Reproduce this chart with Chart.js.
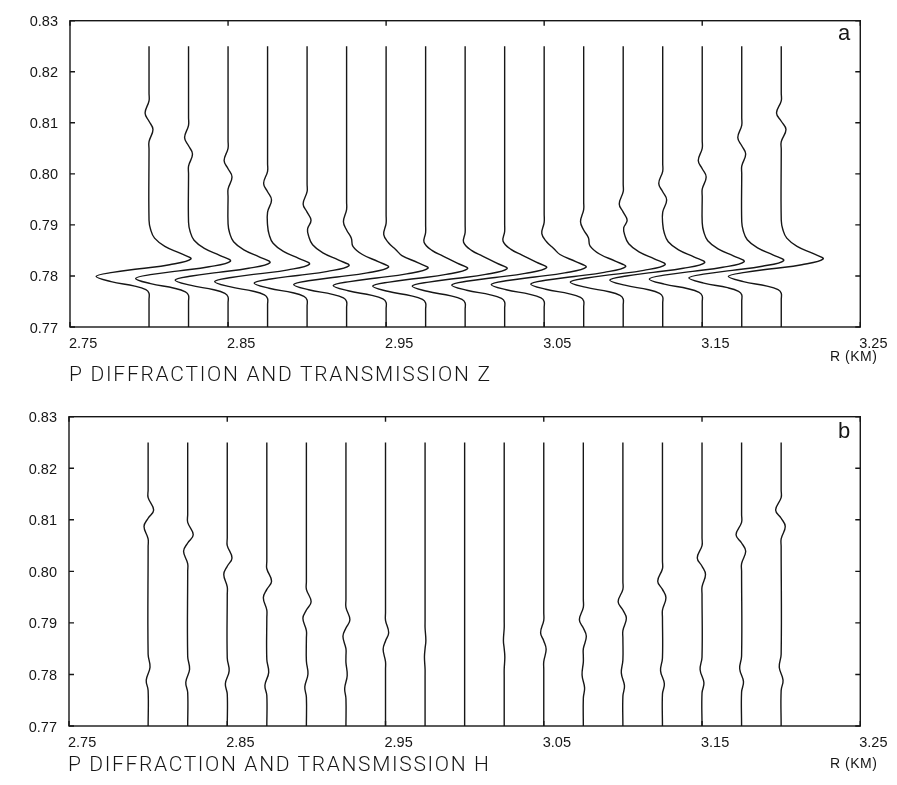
<!DOCTYPE html>
<html>
<head>
<meta charset="utf-8">
<script src="https://cdn.jsdelivr.net/npm/chart.js@4.4.1/dist/chart.umd.min.js"></script>
<style>
  html, body { margin: 0; padding: 0; background: #fff; }
  #wrap { position: relative; width: 897px; height: 785px; background: #fff; overflow: hidden; }
  #wrap canvas { position: absolute; left: 0; }
  .txt { position: absolute; color: #161616; white-space: nowrap; line-height: 1; }
  .title { font-family: Roboto, "Liberation Sans", sans-serif; font-weight: 300; font-size: 21px; }
  .unit { font-family: "Liberation Sans", Arial, sans-serif; font-size: 14px; }
  .tag { font-family: "Liberation Sans", Arial, sans-serif; font-size: 22px; }
</style>
</head>
<body>
<div id="wrap">
  <canvas id="panelZ" width="897" height="392" style="top:0px"></canvas>
  <canvas id="panelH" width="897" height="389" style="top:396px"></canvas>
  <div class="txt title" id="titleZ" data-w="421" style="left:69px; top:364px;">P DIFFRACTION AND TRANSMISSION Z</div>
  <div class="txt title" id="titleH" data-w="421" style="left:68px; top:754px;">P DIFFRACTION AND TRANSMISSION H</div>
  <div class="txt unit" data-w="47" style="left:830px; top:349px;">R (KM)</div>
  <div class="txt unit" data-w="47" style="left:830px; top:756px;">R (KM)</div>
  <div class="txt tag" style="left:838px; top:22px;">a</div>
  <div class="txt tag" style="left:838px; top:420px;">b</div>
</div>
<script>
// Receiver ranges (km) of the seventeen traces
const rangeKm = [2.800, 2.825, 2.850, 2.875, 2.900, 2.925, 2.950, 2.975, 3.000,
                 3.025, 3.050, 3.075, 3.100, 3.125, 3.150, 3.175, 3.200];

// Axis ticks
const rangeTicks = [2.75, 2.85, 2.95, 3.05, 3.15, 3.25];
const timeTicks = [0.77, 0.78, 0.79, 0.80, 0.81, 0.82, 0.83];

// Vertical component traces: [time (s), deflection (m of range axis)]
const zTraces = [
  [[0.770,0],[0.7754,0],[0.7766,0],[0.7773,-2],[0.7780,-9],[0.7789,-24],[0.7799,-33.5],[0.7807,-23],[0.7814,-6],[0.7822,13],[0.7833,26.5],[0.7844,20],[0.7858,10],[0.7874,3.5],[0.7891,1],[0.7909,0],[0.8048,0],[0.8063,0],[0.8087,2.5],[0.8103,0],[0.8119,-2.5],[0.8143,0],[0.8158,0],[0.825,0]],
  [[0.770,0],[0.7750,0],[0.7762,0],[0.7769,-2],[0.7776,-9],[0.7785,-24],[0.7795,-33.5],[0.7803,-23],[0.7810,-6],[0.7818,13],[0.7829,26.5],[0.7840,20],[0.7854,10],[0.7870,3.5],[0.7887,1],[0.7905,0],[0.8000,0],[0.8015,0],[0.8039,2.5],[0.8055,0],[0.8071,-2.5],[0.8095,0],[0.8110,0],[0.825,0]],
  [[0.770,0],[0.7747,0],[0.7759,0],[0.7766,-2],[0.7773,-9],[0.7782,-24],[0.7792,-33.5],[0.7800,-23],[0.7807,-6],[0.7815,13],[0.7826,26.5],[0.7837,20],[0.7851,10],[0.7867,3.5],[0.7884,1],[0.7902,0],[0.7955,0],[0.7970,0],[0.7994,2.5],[0.8010,0],[0.8026,-2.5],[0.8050,0],[0.8065,0],[0.825,0]],
  [[0.770,0],[0.7744,0],[0.7756,0],[0.7763,-2],[0.7770,-9],[0.7779,-24],[0.7789,-33.5],[0.7797,-23],[0.7804,-6],[0.7812,13],[0.7823,26.5],[0.7834,20],[0.7848,10],[0.7864,3.5],[0.7881,1],[0.7899,0],[0.7925,0],[0.7949,2.5],[0.7965,0],[0.7981,-2.5],[0.8005,0],[0.8020,0],[0.825,0]],
  [[0.770,0],[0.7741,0],[0.7753,0],[0.7760,-2],[0.7767,-9],[0.7776,-24],[0.7786,-33.5],[0.7794,-23],[0.7801,-6],[0.7809,13],[0.7820,26.5],[0.7831,20],[0.7845,10],[0.7861,3.5],[0.7878,1],[0.7892,0.3],[0.7909,2.5],[0.7925,0],[0.7941,-2.5],[0.7965,0],[0.7980,0],[0.825,0]],
  [[0.770,0],[0.7738,0],[0.7750,0],[0.7757,-2],[0.7764,-9],[0.7773,-24],[0.7783,-33.5],[0.7791,-23],[0.7798,-6],[0.7806,13],[0.7817,26.5],[0.7828,20],[0.7842,10],[0.7858,4],[0.7874,3],[0.7890,0],[0.7906,-2],[0.7930,0],[0.7945,0],[0.825,0]],
  [[0.770,0],[0.7736,0],[0.7748,0],[0.7755,-2],[0.7762,-9],[0.7771,-24],[0.7781,-33.5],[0.7789,-23],[0.7796,-6],[0.7804,13],[0.7815,26.5],[0.7826,20],[0.7840,10],[0.7852,6],[0.7865,1.5],[0.7881,-1.5],[0.7903,0],[0.7920,0],[0.825,0]],
  [[0.770,0],[0.7735,0],[0.7747,0],[0.7754,-2],[0.7761,-9],[0.7770,-24],[0.7780,-33.5],[0.7788,-23],[0.7795,-6],[0.7803,13],[0.7814,26.5],[0.7825,20],[0.7839,11],[0.7850,4],[0.7866,-1],[0.7885,0],[0.7900,0],[0.825,0]],
  [[0.770,0],[0.7735,0],[0.7747,0],[0.7754,-2],[0.7761,-9],[0.7770,-24],[0.7780,-33.5],[0.7788,-23],[0.7795,-6],[0.7803,13],[0.7814,26.5],[0.7825,20],[0.7839,11],[0.7850,4],[0.7866,-1],[0.7885,0],[0.7900,0],[0.825,0]],
  [[0.770,0],[0.7737,0],[0.7749,0],[0.7756,-2],[0.7763,-9],[0.7772,-24],[0.7782,-33.5],[0.7790,-23],[0.7797,-6],[0.7805,13],[0.7816,26.5],[0.7827,20],[0.7841,11],[0.7852,4],[0.7868,-1],[0.7887,0],[0.7902,0],[0.825,0]],
  [[0.770,0],[0.7738,0],[0.7750,0],[0.7757,-2],[0.7764,-9],[0.7773,-24],[0.7783,-33.5],[0.7791,-23],[0.7798,-6],[0.7806,13],[0.7817,26.5],[0.7828,20],[0.7842,10],[0.7854,6],[0.7867,1.5],[0.7883,-1.5],[0.7905,0],[0.7922,0],[0.825,0]],
  [[0.770,0],[0.7739,0],[0.7751,0],[0.7758,-2],[0.7765,-9],[0.7774,-24],[0.7784,-33.5],[0.7792,-23],[0.7799,-6],[0.7807,13],[0.7818,26.5],[0.7829,20],[0.7843,10],[0.7859,4],[0.7875,3],[0.7890,0],[0.7906,-2],[0.7930,0],[0.7945,0],[0.825,0]],
  [[0.770,0],[0.7743,0],[0.7755,0],[0.7762,-2],[0.7769,-9],[0.7778,-24],[0.7788,-33.5],[0.7796,-23],[0.7803,-6],[0.7811,13],[0.7822,26.5],[0.7833,20],[0.7847,10],[0.7863,3.5],[0.7880,1],[0.7894,0.3],[0.7909,2.5],[0.7925,0],[0.7941,-2.5],[0.7965,0],[0.7980,0],[0.825,0]],
  [[0.770,0],[0.7747,0],[0.7759,0],[0.7766,-2],[0.7773,-9],[0.7782,-24],[0.7792,-33.5],[0.7800,-23],[0.7807,-6],[0.7815,13],[0.7826,26.5],[0.7837,20],[0.7851,10],[0.7867,3.5],[0.7884,1],[0.7902,0],[0.7925,0],[0.7949,2.5],[0.7965,0],[0.7981,-2.5],[0.8005,0],[0.8020,0],[0.825,0]],
  [[0.770,0],[0.7749,0],[0.7761,0],[0.7768,-2],[0.7775,-9],[0.7784,-24],[0.7794,-33.5],[0.7802,-23],[0.7809,-6],[0.7817,13],[0.7828,26.5],[0.7839,20],[0.7853,10],[0.7869,3.5],[0.7886,1],[0.7904,0],[0.7955,0],[0.7970,0],[0.7994,2.5],[0.8010,0],[0.8026,-2.5],[0.8050,0],[0.8065,0],[0.825,0]],
  [[0.770,0],[0.7751,0],[0.7763,0],[0.7770,-2],[0.7777,-9],[0.7786,-24],[0.7796,-33.5],[0.7804,-23],[0.7811,-6],[0.7819,13],[0.7830,26.5],[0.7841,20],[0.7855,10],[0.7871,3.5],[0.7888,1],[0.7906,0],[0.8000,0],[0.8015,0],[0.8039,2.5],[0.8055,0],[0.8071,-2.5],[0.8095,0],[0.8110,0],[0.825,0]],
  [[0.770,0],[0.7754,0],[0.7766,0],[0.7773,-2],[0.7780,-9],[0.7789,-24],[0.7799,-33.5],[0.7807,-23],[0.7814,-6],[0.7822,13],[0.7833,26.5],[0.7844,20],[0.7858,10],[0.7874,3.5],[0.7891,1],[0.7909,0],[0.8048,0],[0.8063,0],[0.8087,3],[0.8103,0],[0.8119,-3],[0.8143,0],[0.8158,0],[0.825,0]]
];

// Horizontal component traces: [time (s), deflection (m of range axis)]
const hTraces = [
  [[0.770,0],[0.7769,0],[0.7789,-1.2],[0.7814,1.2],[0.7839,0],[0.8048,0],[0.8063,0],[0.8087,-2.6],[0.8103,0],[0.8119,3.5],[0.8143,0],[0.8158,0],[0.825,0]],
  [[0.770,0],[0.7765,0],[0.7785,-1.2],[0.7810,1.2],[0.7835,0],[0.8000,0],[0.8015,0],[0.8039,-2.6],[0.8055,0],[0.8071,3.5],[0.8095,0],[0.8110,0],[0.825,0]],
  [[0.770,0],[0.7762,0],[0.7782,-1.2],[0.7807,1.2],[0.7832,0],[0.7955,0],[0.7970,0],[0.7994,-2.2],[0.8010,0],[0.8026,3],[0.8050,0],[0.8065,0],[0.825,0]],
  [[0.770,0],[0.7759,0],[0.7779,-1.2],[0.7804,1.2],[0.7829,0],[0.7910,0],[0.7925,0],[0.7949,-2.2],[0.7965,0],[0.7981,3],[0.8005,0],[0.8020,0],[0.825,0]],
  [[0.770,0],[0.7756,0],[0.7776,-1],[0.7801,1],[0.7826,0],[0.7870,0],[0.7885,0],[0.7909,-2.2],[0.7925,0],[0.7941,3],[0.7965,0],[0.7980,0],[0.825,0]],
  [[0.770,0],[0.7753,0],[0.7773,-0.8],[0.7798,0.8],[0.7823,0],[0.7835,0],[0.7850,0],[0.7874,-1.9],[0.7890,0],[0.7906,2.5],[0.7930,0],[0.7945,0],[0.825,0]],
  [[0.770,0],[0.7810,0],[0.7825,0],[0.7849,-1.5],[0.7865,0],[0.7881,2],[0.7905,0],[0.7920,0],[0.825,0]],
  [[0.770,0],[0.7795,0],[0.7810,0],[0.7834,-0.4],[0.7850,0],[0.7866,0.5],[0.7890,0],[0.7905,0],[0.825,0]],
  [[0.770,0],[0.825,0]],
  [[0.770,0],[0.7795,0],[0.7810,0],[0.7834,0.4],[0.7850,0],[0.7866,-0.5],[0.7890,0],[0.7905,0],[0.825,0]],
  [[0.770,0],[0.7810,0],[0.7825,0],[0.7849,1.5],[0.7865,0],[0.7881,-2],[0.7905,0],[0.7920,0],[0.825,0]],
  [[0.770,0],[0.7754,0],[0.7774,0.8],[0.7799,-0.8],[0.7824,0],[0.7835,0],[0.7850,0],[0.7874,1.9],[0.7890,0],[0.7906,-2.5],[0.7930,0],[0.7945,0],[0.825,0]],
  [[0.770,0],[0.7758,0],[0.7778,1],[0.7803,-1],[0.7828,0],[0.7870,0],[0.7885,0],[0.7909,2.2],[0.7925,0],[0.7941,-3],[0.7965,0],[0.7980,0],[0.825,0]],
  [[0.770,0],[0.7762,0],[0.7782,1.2],[0.7807,-1.2],[0.7832,0],[0.7910,0],[0.7925,0],[0.7949,2.2],[0.7965,0],[0.7981,-3],[0.8005,0],[0.8020,0],[0.825,0]],
  [[0.770,0],[0.7764,0],[0.7784,1.2],[0.7809,-1.2],[0.7834,0],[0.7955,0],[0.7970,0],[0.7994,2.2],[0.8010,0],[0.8026,-3],[0.8050,0],[0.8065,0],[0.825,0]],
  [[0.770,0],[0.7766,0],[0.7786,1.2],[0.7811,-1.2],[0.7836,0],[0.8000,0],[0.8015,0],[0.8039,2.6],[0.8055,0],[0.8071,-3.5],[0.8095,0],[0.8110,0],[0.825,0]],
  [[0.770,0],[0.7769,0],[0.7789,1.2],[0.7814,-1.2],[0.7839,0],[0.8048,0],[0.8063,0],[0.8087,2.6],[0.8103,0],[0.8119,-3.5],[0.8143,0],[0.8158,0],[0.825,0]]
];

const INK = '#161616';

// Box frame with inward tick marks on all four sides
const framePlugin = {
  id: 'frame',
  afterDatasetsDraw(chart) {
    const {ctx, chartArea: a, scales: {x, y}} = chart;
    ctx.save();
    ctx.strokeStyle = INK;
    ctx.lineWidth = 1.4;
    ctx.strokeRect(a.left, a.top, a.right - a.left, a.bottom - a.top);
    ctx.beginPath();
    rangeTicks.forEach(v => {
      const px = x.getPixelForValue(v);
      ctx.moveTo(px, a.top); ctx.lineTo(px, a.top + 5);
      ctx.moveTo(px, a.bottom); ctx.lineTo(px, a.bottom - 5);
    });
    timeTicks.forEach(v => {
      const py = y.getPixelForValue(v);
      ctx.moveTo(a.left, py); ctx.lineTo(a.left + 5, py);
      ctx.moveTo(a.right, py); ctx.lineTo(a.right - 5, py);
    });
    ctx.stroke();
    ctx.restore();
  }
};

function buildPanel(canvasId, traces, box) {
  const canvas = document.getElementById(canvasId);
  const datasets = traces.map((pts, i) => ({
    data: pts.map(([t, a]) => ({x: rangeKm[i] + a / 1000, y: t})),
    borderColor: INK,
    borderWidth: 1.4,
    pointRadius: 0,
    tension: 0.4,
    fill: false
  }));
  const tickFont = {family: '"Liberation Sans", Arial, sans-serif', size: 14.5};
  return new Chart(canvas, {
    type: 'line',
    data: {datasets},
    options: {
      responsive: false,
      animation: false,
      devicePixelRatio: 1,
      layout: {padding: {left: 0, top: box.top, right: canvas.width - box.right, bottom: 0}},
      plugins: {legend: {display: false}, tooltip: {enabled: false}, title: {display: false}},
      scales: {
        x: {
          type: 'linear', position: 'bottom', min: 2.75, max: 3.25,
          grid: {display: false, drawTicks: false},
          border: {display: false},
          afterBuildTicks: s => { s.ticks = rangeTicks.map(v => ({value: v})); },
          afterFit: s => { s.height = canvas.height - box.bottom; },
          ticks: {align: 'start', padding: 8.5, labelOffset: -1, maxRotation: 0, autoSkip: false,
                  color: INK, font: tickFont, callback: v => v.toFixed(2)}
        },
        y: {
          type: 'linear', position: 'left', min: 0.77, max: 0.83,
          grid: {display: false, drawTicks: false},
          border: {display: false},
          afterBuildTicks: s => { s.ticks = timeTicks.map(v => ({value: v})); },
          afterFit: s => { s.width = box.left; },
          ticks: {padding: 12, labelOffset: 1.5, autoSkip: false,
                  color: INK, font: tickFont, callback: v => v.toFixed(2)}
        }
      }
    },
    plugins: [framePlugin]
  });
}

buildPanel('panelZ', zTraces, {left: 70, right: 864, top: 11, bottom: 327});
buildPanel('panelH', hTraces, {left: 69, right: 863, top: 12, bottom: 330});

// Stretch captions to their set widths
document.querySelectorAll('[data-w]').forEach(el => {
  const target = +el.dataset.w;
  const w = el.getBoundingClientRect().width;
  const n = el.textContent.length;
  if (n > 1) el.style.letterSpacing = ((target - w) / (n - 1)).toFixed(2) + 'px';
});
</script>
</body>
</html>
